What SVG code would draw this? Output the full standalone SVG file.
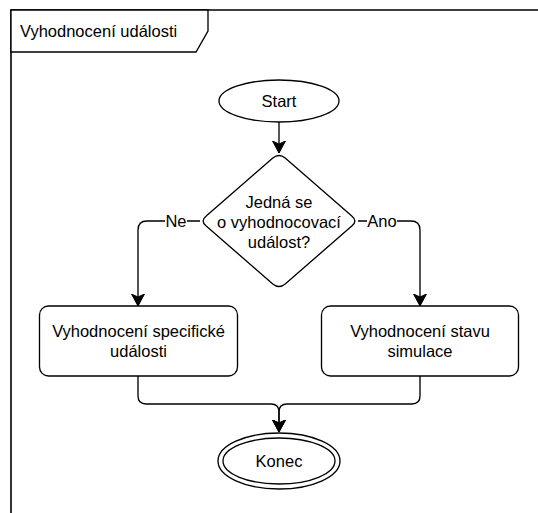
<svg xmlns="http://www.w3.org/2000/svg" width="538" height="513" viewBox="0 0 538 513">
  <style>
    .s { fill: none; stroke: #000; stroke-width: 1.33; }
    .n { fill: #fff; stroke: #000; stroke-width: 1.33; }
    .t { font-family: "Liberation Sans", Arial, Helvetica, sans-serif; font-size: 16.5px; fill: #000; }
    .c { text-anchor: middle; dominant-baseline: central; }
  </style>
  <defs>
    <marker id="arr" markerUnits="userSpaceOnUse" markerWidth="14" markerHeight="14" viewBox="0 0 14 14" refX="12" refY="7" orient="auto">
      <path d="M12,7 L0,0.5 L3,7 L0,13.5 Z" fill="#000" stroke="#000" stroke-width="1"/>
    </marker>
  </defs>
  <rect width="538" height="513" fill="#fff"/>

  <g id="frame">
    <path d="M11,520 V10 H545" fill="none" stroke="#000" stroke-width="1.6"/>
    <path d="M11,10 H208 V31 L196,52 H11 Z" class="n"/>
    <text x="20" y="31" class="t" dominant-baseline="central">Vyhodnocení události</text>
  </g>

  <g id="connectors">
    <path d="M279,122 V153" class="s" marker-end="url(#arr)"/>
    <path d="M200,221 H147 Q138,221 138,230 V306" class="s" marker-end="url(#arr)"/>
    <path d="M358,221 H411 Q420,221 420,230 V306" class="s" marker-end="url(#arr)"/>
    <path d="M138,376 V396 Q138,404 146,404 H271 Q279,404 279,412 V432" class="s" marker-end="url(#arr)"/>
    <path d="M420,376 V396 Q420,404 412,404 H287 Q279,404 279,412 V432" class="s" marker-end="url(#arr)"/>
    <g id="label-ne">
      <rect x="165" y="212" width="22" height="18" fill="#fff"/>
      <text x="176" y="221" class="t c">Ne</text>
    </g>
    <g id="label-ano">
      <rect x="367" y="212" width="30" height="18" fill="#fff"/>
      <text x="382" y="221" class="t c">Ano</text>
    </g>
  </g>

  <g id="start">
    <ellipse cx="279" cy="101" rx="60" ry="21" class="n"/>
    <text x="279" y="101" class="t c">Start</text>
  </g>

  <g id="decision">
    <path d="M272.8,158.1 Q279,153 285.2,158.1 L351.8,215.9 Q358,221 351.8,226.1 L285.2,283.9 Q279,289 272.8,283.9 L206.2,226.1 Q200,221 206.2,215.9 Z" class="n"/>
    <text class="t c" x="279" y="202">Jedná se</text>
    <text class="t c" x="279" y="222">o vyhodnocovací</text>
    <text class="t c" x="279" y="242">událost?</text>
  </g>

  <g id="specific">
    <rect x="39.5" y="306" width="198" height="70" rx="9" ry="9" class="n"/>
    <text class="t c" x="138.5" y="331">Vyhodnocení specifické</text>
    <text class="t c" x="138.5" y="351">události</text>
  </g>

  <g id="state">
    <rect x="321.5" y="306" width="197" height="70" rx="9" ry="9" class="n"/>
    <text class="t c" x="420" y="331">Vyhodnocení stavu</text>
    <text class="t c" x="420" y="351">simulace</text>
  </g>

  <g id="end">
    <ellipse cx="279" cy="461" rx="61" ry="28" class="n"/>
    <ellipse cx="279" cy="461" rx="56" ry="23" class="n"/>
    <text class="t c" x="279" y="461">Konec</text>
  </g>
</svg>
